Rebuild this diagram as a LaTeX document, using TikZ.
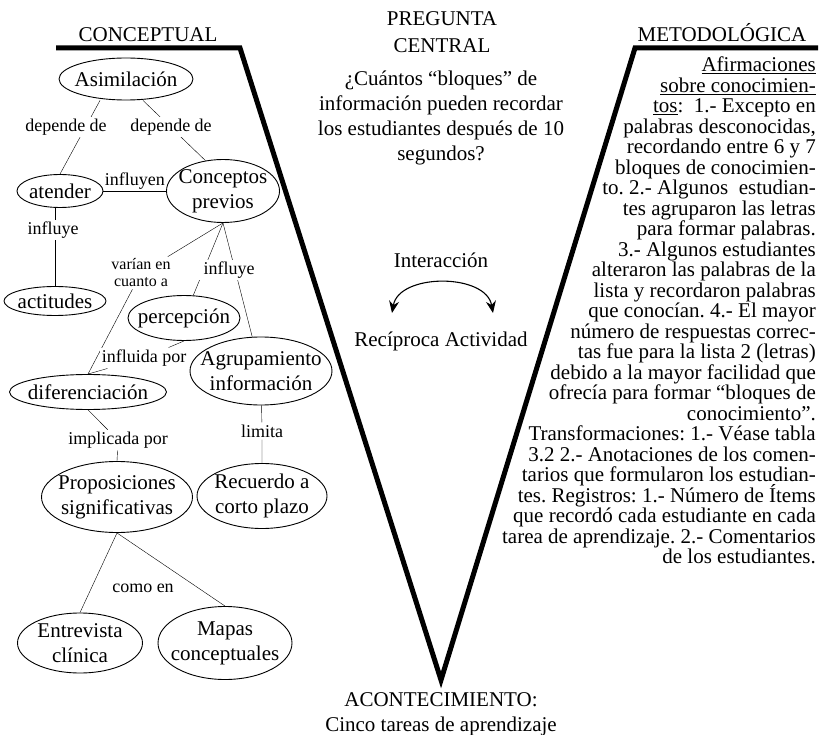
\documentclass[tikz,border=0pt]{standalone}
\usepackage{fontspec}
\setmainfont{Liberation Serif}
\usetikzlibrary{positioning,shapes.geometric,backgrounds,arrows.meta}
\frenchspacing

\tikzset{
  concepto/.style={ellipse,draw=black,line width=0.9pt,inner sep=-30pt,align=center,font=\fontsize{21}{25}\selectfont},
  enlace/.style={fill=white,inner sep=2pt,align=center,font=\fontsize{18}{18}\selectfont},
  rotulo/.style={align=center,font=\fontsize{21}{27}\selectfont},
  liga/.style={line width=0.8pt},
  uve/.style={line width=5pt},
}

\begin{document}
\begin{tikzpicture}[x=1pt,y=1pt]
	\useasboundingbox (0,0) rectangle (822,-735);
	\draw[uve] (56,-48) -- (240,-48) -- (441,-680) -- (635,-48) -- (818,-48);
	
	\node[rotulo,anchor=base] (conc) at (148,-42) {CONCEPTUAL};
	\node[rotulo,anchor=base] (meto) at (722,-42) {METODOLÓGICA};
	\node[rotulo,anchor=north,inner sep=0pt] (preg) at (442,-11) {PREGUNTA\\CENTRAL};
	\node[rotulo,anchor=north,inner sep=0pt,font=\fontsize{21}{25}\selectfont] (cuant) at (441,-70.7) {¿Cuántos “bloques” de\\información pueden recordar\\los estudiantes después de 10\\segundos?};
	\node[rotulo,anchor=base] (inter) at (441,-268) {Interacción};
	\node[rotulo,anchor=base] (recip) at (441,-347) {Recíproca Actividad};
	\coordinate (izq) at (392,-313);
	\coordinate (der) at (493,-313);
	\draw[line width=1.1pt,{Stealth[length=12pt,width=10pt]}-{Stealth[length=12pt,width=10pt]}] (izq) .. controls (399,-273) and (486,-273) .. (der);
	\node[rotulo,anchor=north,inner sep=0pt,font=\fontsize{21}{25}\selectfont] (acon) at (441,-692) {ACONTECIMIENTO:\\Cinco tareas de aprendizaje};
	
	\node[anchor=north east,inner sep=0pt,align=right,font={\fontsize{21}{20.5}\selectfont\lineskiplimit=-20pt}] (afir) at (816,-57) {\underline{Afirmaciones}\\
		\underline{sobre conocimien-}\\
		\underline{tos}:\ \ 1.- Excepto en\\
		palabras desconocidas,\\
		recordando entre 6 y 7\\
		bloques de conocimien-\\
		to. 2.- Algunos\ \ estudian-\\
		tes agruparon las letras\\
		para formar palabras.\\
		3.- Algunos estudiantes\\
		alteraron las palabras de la\\
		lista y recordaron palabras\\
		que conocían. 4.- El mayor\\
		número de respuestas correc-\\
		tas fue para la lista 2 (letras)\\
		debido a la mayor facilidad que\\
		ofrecía para formar “bloques de\\
		conocimiento”.\\
		Transformaciones: 1.- Véase tabla\\
		3.2 2.- Anotaciones de los comen-\\
		tarios que formularon los estudian-\\
		tes. Registros: 1.- Número de Ítems\\
		que recordó cada estudiante en cada\\
		tarea de aprendizaje. 2.- Comentarios\\
		de los estudiantes.};
	
	\node[concepto,minimum width=134pt,minimum height=42pt] (asi) at (126,-79) {Asimilación};
	\node[concepto,minimum width=86pt,minimum height=33pt] (ate) at (60,-191) {atender};
	\node[concepto,minimum width=113pt,minimum height=63pt] (cp) at (223,-191) {Conceptos\\previos};
	\node[concepto,minimum width=102pt,minimum height=29pt] (act) at (55,-301) {actitudes};
	\node[concepto,minimum width=112pt,minimum height=45pt] (per) at (184,-318) {percepción};
	\node[concepto,minimum width=142pt,minimum height=68pt] (agr) at (261,-371) {Agrupamiento\\información};
	\node[concepto,minimum width=157pt,minimum height=35pt] (dif) at (88,-392) {diferenciación};
	\node[concepto,minimum width=151pt,minimum height=71pt] (prop) at (117,-497) {Proposiciones\\significativas};
	\node[concepto,minimum width=130pt,minimum height=65pt] (rec) at (262,-496) {Recuerdo a\\corto plazo};
	\node[concepto,minimum width=125pt,minimum height=60pt] (ent) at (80,-643) {Entrevista\\clínica};
	\node[concepto,minimum width=134pt,minimum height=73pt] (map) at (225,-643) {Mapas\\conceptuales};
	
	\node[enlace] (dep1) at (66,-127) {depende de};
	\node[enlace] (dep2) at (171,-127) {depende de};
	\node[enlace] (inf1) at (53,-230) {influye};
	\node[enlace,font=\fontsize{16}{17}\selectfont] (var) at (141,-273) {varían en\\cuanto a};
	\node[enlace,inner xsep=10pt] (inf2) at (229,-270) {influye};
	\node[enlace] (infl) at (144,-358) {influida por};
	\node[enlace] (impl) at (118,-440) {implicada por};
	\node[enlace] (lim) at (262,-431) {limita};
	\node[enlace] (como) at (143,-588) {como en};
	
	\begin{scope}[on background layer,liga]
		\draw ([xshift=-26pt]asi.south) -- (ate.north);
		\draw ([xshift=17pt]asi.south) -- (cp.120);
		\draw (ate) -- node[enlace,fill=none,above=-1pt] (infn) {influyen} (cp);
		\draw ([xshift=-5pt]ate.south) -- (act.north);
		\draw (cp.south) -- (var) -- (dif.north);
		\draw (cp.south) -- (per);
		\draw (cp.south) -- (agr);
		\draw (per.south) -- (infl) -- (dif.north);
		\draw (dif.south) -- (impl) -- (prop.north);
		\draw (agr) -- (lim) -- (rec);
		\draw (prop.south) -- (ent.north);
		\draw (prop.south) -- (map.north);
	\end{scope}
\end{tikzpicture}
\end{document}
